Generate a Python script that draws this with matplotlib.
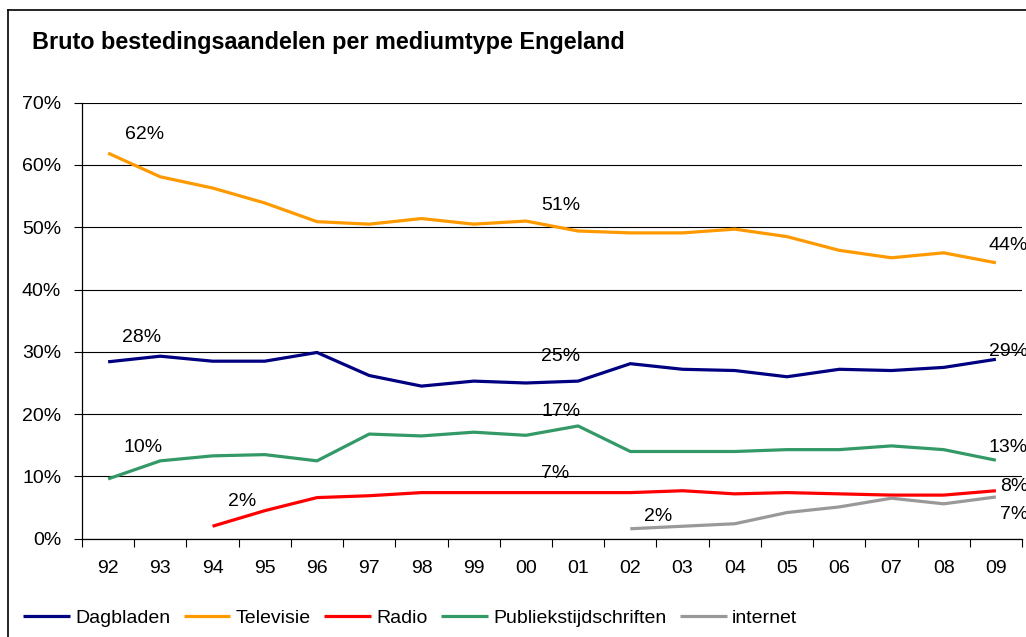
import numpy as np
import matplotlib.pyplot as plt
from matplotlib.lines import Line2D
from matplotlib.ticker import FuncFormatter

# -------------------- Data --------------------

years = ['92', '93', '94', '95', '96', '97', '98', '99', '00',
         '01', '02', '03', '04', '05', '06', '07', '08', '09']

dagbladen = [28.4, 29.3, 28.5, 28.5, 29.9, 26.2, 24.5, 25.3, 25.0,
             25.3, 28.1, 27.2, 27.0, 26.0, 27.2, 27.0, 27.5, 28.8]
televisie = [61.9, 58.1, 56.3, 53.9, 50.9, 50.5, 51.4, 50.5, 51.0,
             49.4, 49.1, 49.1, 49.7, 48.5, 46.3, 45.1, 45.9, 44.3]
radio = [np.nan, np.nan, 2.0, 4.5, 6.6, 6.9, 7.4, 7.4, 7.4,
         7.4, 7.4, 7.7, 7.2, 7.4, 7.2, 7.0, 7.0, 7.7]
publiek = [9.6, 12.5, 13.3, 13.5, 12.5, 16.8, 16.5, 17.1, 16.6,
           18.1, 14.0, 14.0, 14.0, 14.3, 14.3, 14.9, 14.3, 12.6]
internet = [np.nan] * 10 + [1.6, 2.0, 2.4, 4.2, 5.1, 6.5, 5.6, 6.7]

series_names = ['Dagbladen', 'Televisie', 'Radio', 'Publiekstijdschriften', 'internet']
series_values = [dagbladen, televisie, radio, publiek, internet]
series_colors = ['#000080', '#FF9900', '#FF0000', '#339966', '#999999']

# data labels: (series index, year index, offset in pixels (dx to left edge, dy up))
data_labels = [
    (1, 0, 17, 19), (1, 8, 15, 16), (1, 17, -7, 17),
    (0, 0, 14, 24), (0, 8, 15, 26), (0, 17, -7, 8),
    (3, 0, 15, 31), (3, 8, 16, 24), (3, 17, -7, 13),
    (2, 2, 15, 25), (2, 8, 15, 19), (2, 17, 4, 4),
    (4, 10, 14, 12), (4, 17, 4, -18),
]

title = 'Bruto bestedingsaandelen per mediumtype Engeland'

# -------------------- Figure --------------------

plt.rcParams['font.family'] = ['Liberation Sans', 'DejaVu Sans']
fs = 14

fig = plt.figure(figsize=(10.26, 6.37), dpi=100)
ax = fig.add_axes([82 / 1026, 98.3 / 637, 940 / 1026, 436 / 637])

x = np.arange(len(years))
for name, vals, col in zip(series_names, series_values, series_colors):
    ax.plot(x, vals, color=col, lw=2.3, label=name, solid_capstyle='butt')

for si, yi, dx, dy in data_labels:
    v = series_values[si][yi]
    ax.annotate(f'{v:.0f}%', (x[yi], v), xytext=(dx, dy), textcoords='offset pixels',
                ha='left', va='center', fontsize=fs, annotation_clip=False)

ax.set_xlim(-0.5, len(years) - 0.5)
ax.set_ylim(0, 70)
ax.set_yticks(np.arange(0, 71, 10))
ax.yaxis.set_major_formatter(FuncFormatter(lambda v, p: f'{v:.0f}%'))
ax.yaxis.grid(True, color='black', lw=0.8)
ax.set_axisbelow(True)

# ticks between categories, labels centred
ax.set_xticks(np.arange(-0.5, len(years), 1))
ax.set_xticklabels([])
ax.set_xticks(x, minor=True)
ax.set_xticklabels(years, minor=True, fontsize=fs)
ax.tick_params(axis='x', which='major', length=6, width=0.8, direction='out')
ax.tick_params(axis='x', which='minor', length=0, pad=15)
ax.tick_params(axis='y', length=6, width=0.8, labelsize=fs, pad=9)

for s in ['top', 'right']:
    ax.spines[s].set_visible(False)
ax.spines['left'].set_linewidth(0.9)
ax.spines['bottom'].set_linewidth(0.9)

fig.text(32 / 1026, (637 - 49) / 637, title, fontsize=16.8, fontweight='bold',
         ha='left', va='baseline')

fig.legend(loc='center left', bbox_to_anchor=(23 / 1026, 19 / 637), ncol=5,
           frameon=False, fontsize=14, handlelength=2.4, handletextpad=0.27,
           columnspacing=0.7, borderpad=0, borderaxespad=0)

# outer chart frame (clipped on right and bottom)
fig.add_artist(Line2D([8 / 1026, 8 / 1026], [0, 627 / 637], color='black', lw=1.2))
fig.add_artist(Line2D([8 / 1026, 1], [627 / 637, 627 / 637], color='black', lw=1.2))

fig.savefig('out.png', dpi=100)
